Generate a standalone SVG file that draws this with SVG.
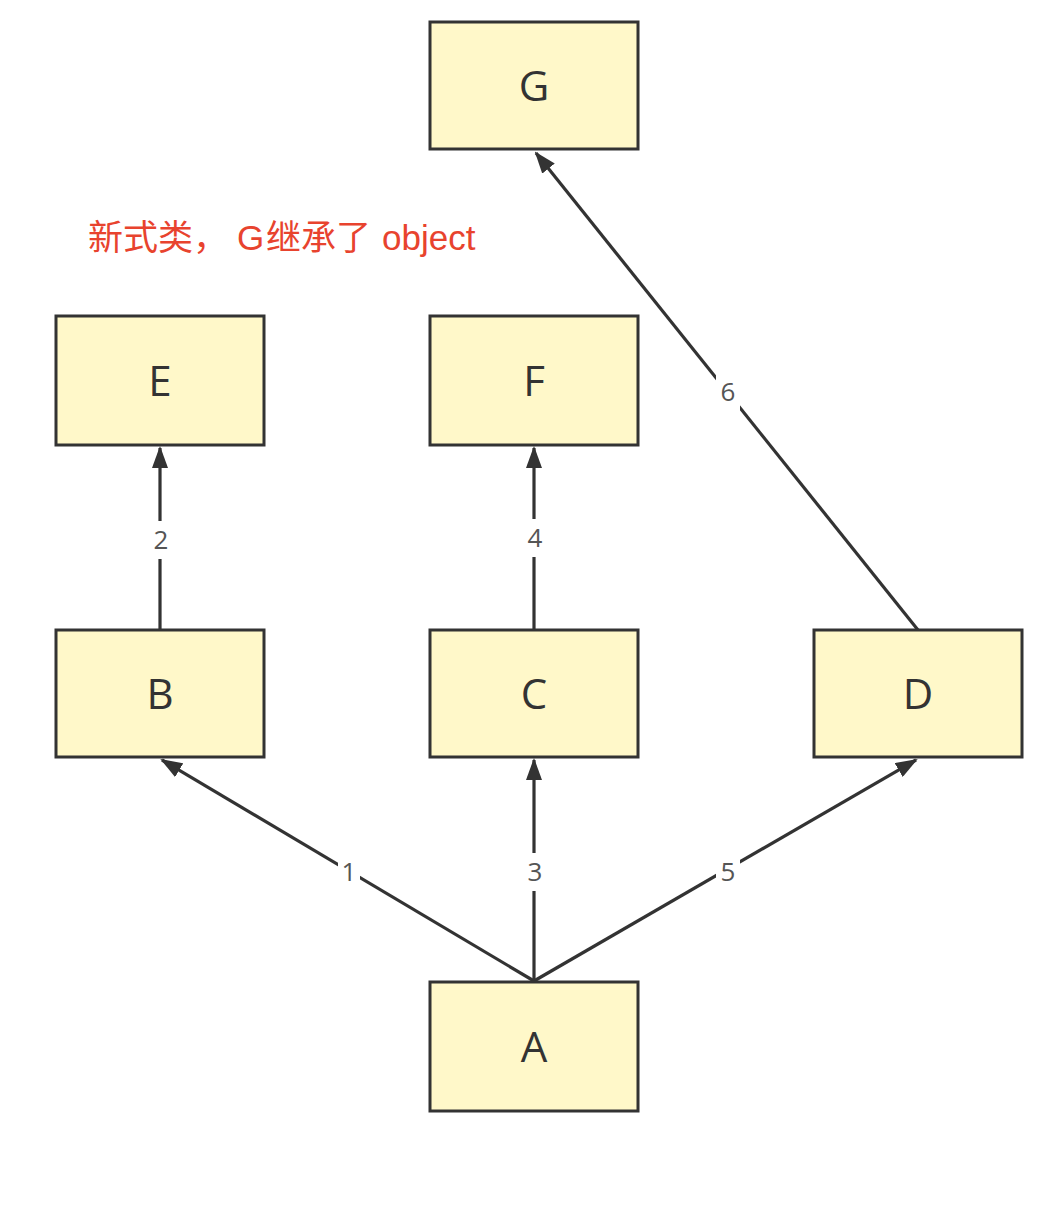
<svg xmlns="http://www.w3.org/2000/svg" width="1054" height="1220" viewBox="0 0 1054 1220">
<style>
.node rect{fill:#fff8c9;stroke:#333;stroke-width:3}
.node text{font-family:"Open Sans","Liberation Sans",sans-serif;font-size:42px;fill:#333;text-anchor:middle}
.edge{stroke:#333;stroke-width:3.2;fill:none;marker-end:url(#arr)}
.lbl rect{fill:#fff}
.lbl text{font-family:"Open Sans","Liberation Sans",sans-serif;font-size:26px;fill:#555;text-anchor:middle}
.note{font-family:"Liberation Sans","Noto Sans CJK SC",sans-serif;font-size:35px;fill:#e8432e}
</style>
<defs>
<marker id="arr" viewBox="0 0 22 16" refX="20" refY="8" markerWidth="22" markerHeight="16" markerUnits="userSpaceOnUse" orient="auto">
<path d="M0,0 L22,8 L0,16 Z" fill="#333"/>
</marker>
</defs>
<rect width="1054" height="1220" fill="#fff"/>
<g id="connectors">
<line class="edge" x1="534" y1="981" x2="162" y2="760"/>
<line class="edge" x1="534" y1="981" x2="534" y2="760"/>
<line class="edge" x1="534" y1="981" x2="916" y2="760"/>
<line class="edge" x1="160" y1="630" x2="160" y2="448"/>
<line class="edge" x1="534" y1="630" x2="534" y2="448"/>
<line class="edge" x1="918" y1="630" x2="536" y2="153"/>
<g class="lbl"><rect x="338" y="853" width="22" height="38"/><text x="349" y="881">1</text></g>
<g class="lbl"><rect x="523" y="853" width="24" height="38"/><text x="535" y="881">3</text></g>
<g class="lbl"><rect x="716" y="853" width="24" height="38"/><text x="728" y="881">5</text></g>
<g class="lbl"><rect x="149" y="521" width="24" height="38"/><text x="161" y="549">2</text></g>
<g class="lbl"><rect x="523" y="519" width="24" height="38"/><text x="535" y="547">4</text></g>
<g class="lbl"><rect x="716" y="373" width="24" height="38"/><text x="728" y="401">6</text></g>
</g>
<g id="G" class="node"><rect x="430" y="22" width="208" height="127"/><text x="534" y="101">G</text></g>
<g id="E" class="node"><rect x="56" y="316" width="208" height="129"/><text x="160" y="396">E</text></g>
<g id="F" class="node"><rect x="430" y="316" width="208" height="129"/><text x="534" y="396">F</text></g>
<g id="B" class="node"><rect x="56" y="630" width="208" height="127"/><text x="160" y="709">B</text></g>
<g id="C" class="node"><rect x="430" y="630" width="208" height="127"/><text x="534" y="709">C</text></g>
<g id="D" class="node"><rect x="814" y="630" width="208" height="127"/><text x="918" y="709">D</text></g>
<g id="A" class="node"><rect x="430" y="982" width="208" height="129"/><text x="534" y="1062">A</text></g>
<text class="note" y="250"><tspan x="88">新式类，</tspan><tspan x="237">G</tspan><tspan x="266">继承了 </tspan><tspan x="382">object</tspan></text>
</svg>
